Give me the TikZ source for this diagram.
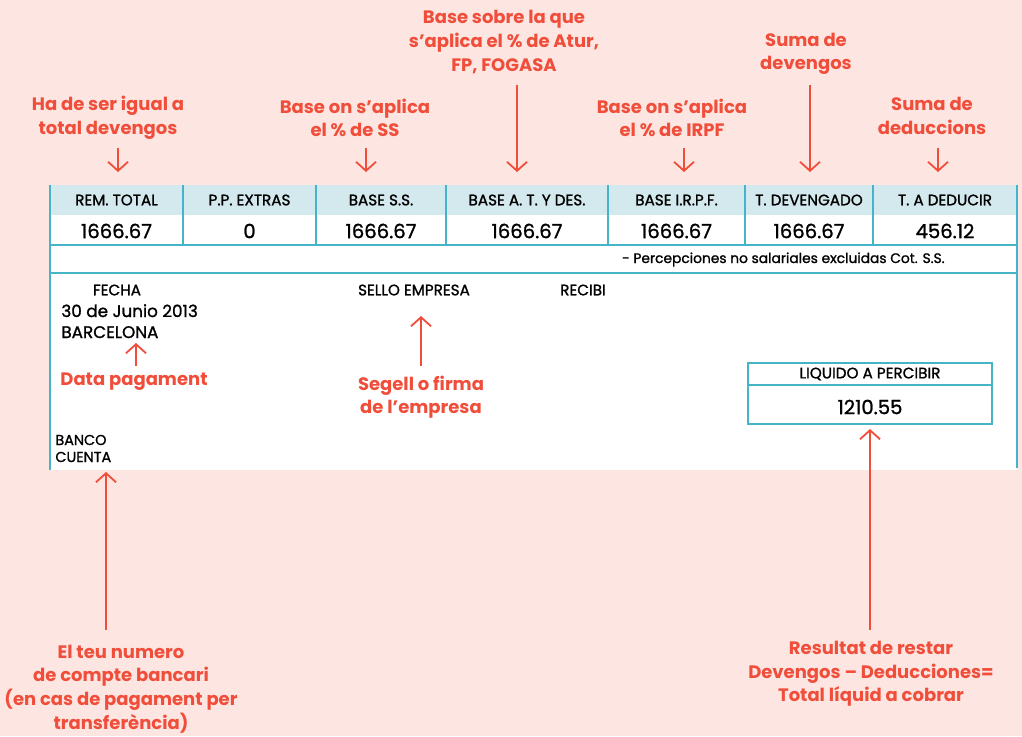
\documentclass[tikz,border=0pt]{standalone}
\usepackage{fontspec}
\setmainfont{Poppins}
\newfontfamily\medfont[FakeBold=1.2]{Poppins}
\usetikzlibrary{arrows.meta}
\definecolor{bgpink}{HTML}{FDE5E1}
\definecolor{nred}{HTML}{F04E3A}
\definecolor{nteal}{HTML}{45B4C9}
\definecolor{nhead}{HTML}{D4E9EE}
\begin{document}
\begin{tikzpicture}[x=0.5pt,y=-0.5pt,
  note/.style={text=nred, font=\bfseries\fontsize{9}{11.8}\selectfont, align=center, inner sep=0pt},
  arr/.style={nred, line width=0.9pt, -{Straight Barb[length=4.5pt,width=10pt]}},
  rule/.style={nteal, line width=1pt},
  hdr/.style={font=\medfont\fontsize{7.6}{8.5}\selectfont, inner sep=0pt},
  val/.style={font=\medfont\fontsize{9.8}{12}\selectfont, inner sep=0pt},
  txt/.style={font=\medfont\fontsize{8.4}{10.5}\selectfont, inner sep=0pt}]
% Background
\fill[bgpink] (0,0) rectangle (1022,736);

% Payslip footer table
\fill[white] (50,215) rectangle (1017,470);
\fill[nhead] (50,185) rectangle (1017,215);
\draw[rule] (50,185) -- (50,470);
\draw[rule] (1017,185) -- (1017,468);
\draw[rule] (50,245) -- (1017,245);
\draw[rule] (50,273) -- (1017,273);
\foreach \x in {183,316,446,608,745,873} {
    \draw[rule] (\x,185) -- (\x,245);
}
\foreach \i/\a/\b/\h/\v in {1/50/183/REM. TOTAL/1666.67, 2/183/316/P.P. EXTRAS/0,
    3/316/446/BASE S.S./1666.67, 4/446/608/BASE A. T. Y DES./1666.67,
    5/608/745/BASE I.R.P.F./1666.67, 6/745/873/T. DEVENGADO/1666.67,
    7/873/1017/T. A DEDUCIR/456.12} {
    \node[hdr] (h\i) at ({(\a+\b)/2},200) {\h};
    \node[val] (v\i) at ({(\a+\b)/2},231) {\v};
}
\node[hdr, font=\medfont\fontsize{6.9}{8}\selectfont, anchor=base east] (perc) at (945,263) {- Percepciones no salariales excluidas Cot. S.S.};

% Signature area
\node[hdr] (fecha) at (117,290) {FECHA};
\node[hdr] (sello) at (414,290) {SELLO EMPRESA};
\node[hdr] (recibi) at (583,290) {RECIBI};
\node[txt, anchor=base west] (dia) at (61,317) {30 de Junio 2013};
\node[txt, anchor=base west] (ciutat) at (61,338) {BARCELONA};
\node[hdr, font=\medfont\fontsize{7.2}{8}\selectfont, anchor=base west] (banco) at (55,445) {BANCO};
\node[hdr, font=\medfont\fontsize{7.2}{8}\selectfont, anchor=base west] (cuenta) at (55,462) {CUENTA};

% Net pay box
\draw[rule, fill=white] (748,363) rectangle (992,424);
\draw[rule] (748,385) -- (992,385);
\node[hdr] (liq) at (870,374) {LIQUIDO A PERCIBIR};
\node[val] (neto) at (870,407) {1210.55};

% Annotations
\node[note] (lRem) at (108,118) {Ha de ser igual a\\total devengos};
\node[note] (lSS) at (355,118) {Base on s’aplica\\el \% de SS};
\node[note] (lAtur) at (504,42) {Base sobre la que\\s’aplica el \% de Atur,\\FP, FOGASA};
\node[note] (lIRPF) at (672,118) {Base on s’aplica\\el \% de IRPF};
\node[note] (lDev) at (806,54) {Suma de\\devengos};
\node[note] (lDed) at (932,116) {Suma de\\deduccions};
\node[note, anchor=base] (lData) at (134,385) {Data pagament};
\node[note] (lSeg) at (421,397) {Segell o firma\\de l’empresa};
\node[note] (lBanc) at (121,689) {El teu numero\\de compte bancari\\(en cas de pagament per\\transferència)};
\node[note] (lRes) at (871,674) {Resultat de restar\\Devengos – Deducciones=\\Total líquid a cobrar};

% Arrows
\foreach \n/\x/\ya/\yb in {1/118/148/172, 2/366/148/172, 3/517/85/172,
    4/684/148/172, 5/810/85/172, 6/938/148/172, 7/136/366/343,
    8/421/366/316, 9/106/630/472, 10/870/630/429} {
    \coordinate (s\n) at (\x,\ya);
    \coordinate (e\n) at (\x,\yb);
    \draw[arr] (s\n) -- (e\n);
}
\end{tikzpicture}
\end{document}
